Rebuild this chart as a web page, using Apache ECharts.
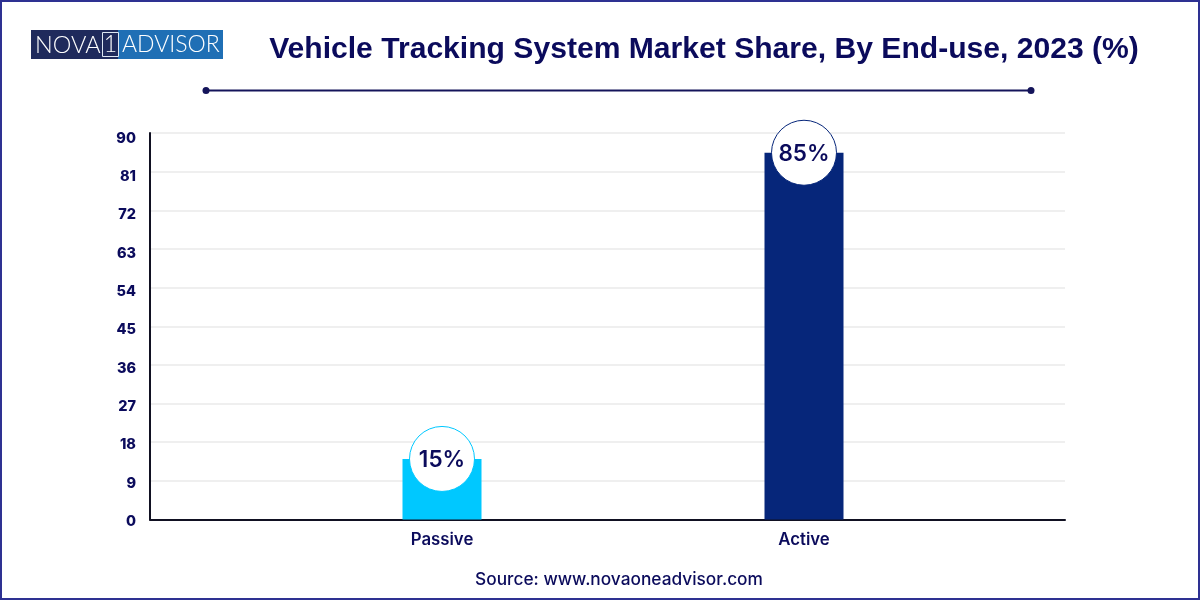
<!DOCTYPE html>
<html><head><meta charset="utf-8">
<style>html,body{margin:0;padding:0;background:#fff}#c{width:1200px;height:600px}</style>
<script src="https://cdn.jsdelivr.net/npm/echarts@6/dist/echarts.min.js"></script>
</head><body><div id="c"></div>
<script>
const categories = ["Passive", "Active"];
const barValues = [14.1, 85.4];
const barLabels = ["15%", "85%"];
const yTicks = [0, 9, 18, 27, 36, 45, 54, 63, 72, 81, 90];
const titleText = "Vehicle Tracking System Market Share, By End-use, 2023 (%)";
const sourceText = "Source: www.novaoneadvisor.com";
const barColors = ["#00C8FF", "#06267A"];
const ink = "#0B0B5C";

const yMin = yTicks[0], yMax = yTicks[yTicks.length - 1], yStep = yTicks[1] - yTicks[0];
const chart = echarts.init(document.getElementById("c"), null, {renderer: "canvas"});
chart.setOption({
  animation: false,
  backgroundColor: "#fff",
  grid: [
    {left: 150, width: 915, top: 133, height: 386.5},
    {left: 261, width: 724, top: 133, height: 386.5},
    {left: 150, width: 915, top: 138.5, height: 383}
  ],
  xAxis: [
    {gridIndex: 0, type: "category", data: categories, axisTick: {show: false}, axisLabel: {show: false},
     axisLine: {lineStyle: {color: "#111122", width: 2}}},
    {gridIndex: 1, type: "category", data: categories, axisTick: {show: false}, axisLine: {show: false},
     axisLabel: {color: ink, fontFamily: "Inter", fontWeight: 600, fontSize: 16.8, margin: 12}},
    {gridIndex: 2, type: "category", data: categories, show: false}
  ],
  yAxis: [
    {gridIndex: 0, type: "value", min: yMin, max: yMax, interval: yStep,
     axisLine: {show: true, lineStyle: {color: "#111122", width: 2}}, axisTick: {show: false},
     axisLabel: {show: false},
     splitLine: {lineStyle: {color: "#EFEFEF", width: 2}}},
    {gridIndex: 1, type: "value", min: yMin, max: yMax, interval: yStep,
     show: false, splitLine: {show: false}},
    {gridIndex: 2, type: "value", min: yMin, max: yMax, interval: yStep,
     axisLine: {show: false}, axisTick: {show: false}, splitLine: {show: false},
     axisLabel: {color: ink, fontFamily: "Inter", fontWeight: 800, fontSize: 14.5, margin: 14}}
  ],
  series: [
    {type: "bar", xAxisIndex: 1, yAxisIndex: 1, barWidth: 79, z: 2,
     data: barValues.map((v, i) => ({value: v, itemStyle: {color: barColors[i]}}))},
    {type: "scatter", xAxisIndex: 1, yAxisIndex: 1, symbol: "circle", symbolSize: 65, z: 3,
     data: barValues.map((v, i) => ({
       value: v,
       itemStyle: {color: "#fff", opacity: 1, borderColor: barColors[i], borderWidth: 1},
       label: {show: true, position: "inside", offset: [0, 1], formatter: barLabels[i], color: ink,
               fontFamily: "Inter", fontWeight: 600, fontSize: 22.5}
     }))}
  ],
  graphic: [
    {type: "rect", z: 0, shape: {x: 1, y: 1, width: 1198, height: 598}, style: {fill: "none", stroke: "#2E3192", lineWidth: 2}},
    {type: "rect", shape: {x: 31, y: 30, width: 192, height: 29}, style: {fill: "#1F6FB5"}},
    {type: "rect", shape: {x: 31, y: 30, width: 87, height: 29}, style: {fill: "#1F2A5C"}},
    {type: "rect", shape: {x: 102.5, y: 32.5, width: 16, height: 24}, style: {fill: "none", stroke: "#DDE6F2", lineWidth: 1}},
    {type: "text", style: {x: 35, y: 45, text: "NOVA", fill: "#fff", font: "300 23.5px Lato", verticalAlign: "middle"}},
    {type: "text", style: {x: 110.5, y: 45, text: "1", fill: "#fff", font: "300 23px Lato", align: "center", verticalAlign: "middle"}},
    {type: "text", style: {x: 122, y: 45, text: "ADVISOR", fill: "#fff", font: "300 23px Lato", verticalAlign: "middle"}},
    {type: "text", style: {x: 704, y: 50, text: titleText, fill: ink, font: "bold 30.1px 'Liberation Sans'", align: "center", verticalAlign: "middle"}},
    {type: "line", shape: {x1: 206, y1: 90.5, x2: 1031, y2: 90.5}, style: {stroke: "#14145A", lineWidth: 2}},
    {type: "circle", shape: {cx: 206, cy: 90.5, r: 3.5}, style: {fill: "#14145A"}},
    {type: "circle", shape: {cx: 1031, cy: 90.5, r: 3.5}, style: {fill: "#14145A"}},
    {type: "text", style: {x: 619, y: 580, text: sourceText, fill: ink, font: "500 17.3px Inter", align: "center", verticalAlign: "middle"}}
  ]
});
</script></body></html>
